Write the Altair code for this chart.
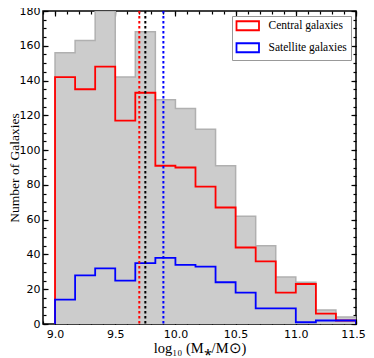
import altair as alt
import pandas as pd

# ---- data ----
bin_edges = [9.0, 9.1667, 9.3333, 9.5, 9.6667, 9.8333, 10.0, 10.1667, 10.3333,
             10.5, 10.6667, 10.8333, 11.0, 11.1667, 11.3333, 11.5]
total_counts = [156, 163, 180, 142, 168, 129, 124, 112, 91, 62, 45, 27, 24, 8, 4]
central_counts = [142, 135, 148, 117, 133, 91, 90, 79, 67, 44, 36, 18, 23, 6, 2]
satellite_counts = [14, 28, 32, 25, 35, 38, 34, 33, 24, 18, 9, 9, 1, 2, 2]
series_names = ["Central galaxies", "Satellite galaxies"]
median_values = [9.70, 9.75, 9.90]
median_colors = ["#ff0000", "#000000", "#0000ff"]
x_major = [9.0, 9.5, 10.0, 10.5, 11.0, 11.5]
x_minor = [round(8.9 + 0.1 * k, 1) for k in range(27)]
y_major = list(range(0, 181, 20))
y_minor = list(range(0, 181, 5))


def step_rows(name, counts):
    xs = [bin_edges[0]] + bin_edges[:-1] + [bin_edges[-1], bin_edges[-1]]
    ys = [0] + counts + [counts[-1], 0]
    return [{"series": name, "order": i, "x": x, "y": y} for i, (x, y) in enumerate(zip(xs, ys))]


area_df = pd.DataFrame({"x": bin_edges, "y": total_counts + [total_counts[-1]]})
total_df = pd.DataFrame(step_rows("All", total_counts))
sub_df = pd.DataFrame(step_rows(series_names[0], central_counts) + step_rows(series_names[1], satellite_counts))
med_df = pd.DataFrame({"x": median_values, "c": median_colors})

xs = alt.Scale(domain=[8.9, 11.5], nice=False, zero=False)
ys = alt.Scale(domain=[0, 180], nice=False, zero=True)

tick_font = "DejaVu Sans"
serif = "Liberation Serif"


def ax(orient, values, size, labels=False, **kw):
    return alt.Axis(orient=orient, values=values, tickSize=size, offset=-size,
                    domain=False, grid=False, labels=labels, ticks=True,
                    tickColor="black", tickWidth=1.2, title=None, **kw)


fill_layer = alt.Chart(area_df).mark_area(interpolate="step-after", color="#cccccc", clip=True).encode(
    x=alt.X("x:Q", scale=xs, axis=ax("bottom", x_major, 5, labels=True, format=".1f",
                                      labelFont=tick_font, labelFontSize=11, labelColor="black",
                                      labelPadding=4, labelFlush=False, labelOverlap=False,
                                      labelOffset={"expr": "datum.value >= 11.4 ? -3 : 0"})).title(None),
    y=alt.Y("y:Q", scale=ys, axis=ax("left", y_major, 5, labels=True, format="d",
                                      labelFont=tick_font, labelFontSize=11, labelColor="black",
                                      labelPadding=3, labelFlush=False, labelOverlap=False)),
)

outline_layer = alt.Chart(total_df).mark_line(interpolate="step-after", color="#b0b0b0",
                                              strokeWidth=1.5, clip=True).encode(
    x=alt.X("x:Q", scale=xs, axis=ax("bottom", x_minor, 3)),
    y=alt.Y("y:Q", scale=ys, axis=ax("left", y_minor, 3)),
    order="order:Q",
)

series_layer = alt.Chart(sub_df).mark_line(interpolate="step-after", strokeWidth=1.8, clip=True).encode(
    x=alt.X("x:Q", scale=xs, axis=ax("top", x_major, 5)),
    y=alt.Y("y:Q", scale=ys, axis=ax("right", y_major, 5)),
    order="order:Q",
    stroke=alt.Stroke("series:N", scale=alt.Scale(domain=series_names, range=["#ff0000", "#0000ff"]),
                      legend=alt.Legend(title=None, orient="none", legendX=189, legendY=5,
                                        fillColor="white", strokeColor="#999999", padding=4,
                                        symbolType="M-2.5,-1L2.5,-1L2.5,1L-2.5,1Z", symbolSize=81,
                                        symbolStrokeWidth=1.8, symbolFillColor="white",
                                        symbolOffset=6, labelOffset=15, rowPadding=5,
                                        labelFont=serif, labelFontSize=11.5, labelColor="black")),
)

rule_layer = alt.Chart(med_df).mark_rule(strokeWidth=2, strokeDash=[2.5, 2.5]).encode(
    x=alt.X("x:Q", scale=xs, axis=ax("top", x_minor, 3)),
    stroke=alt.Stroke("c:N", scale=None),
)

# invisible layer carrying the right minor ticks and the x-axis title
title_layer = alt.Chart(area_df).mark_point(opacity=0).encode(
    x=alt.X("x:Q", scale=xs, axis=alt.Axis(orient="bottom", values=[], offset=0, domain=False, grid=False,
                                           ticks=False, labels=False, title="log₁₀ (M⁎/M⊙)",
                                           titleFont=serif, titleFontSize=14.5, titleFontWeight="normal",
                                           titleColor="black", titlePadding=17)),
    y=alt.Y("y:Q", scale=ys, axis=alt.Axis(orient="right", values=y_minor, tickSize=3, offset=-3,
                                           domain=False, grid=False, labels=False, title=None,
                                           tickColor="black", tickWidth=1.2)),
)

ytitle_layer = alt.Chart(area_df).mark_point(opacity=0).encode(
    y=alt.Y("y:Q", scale=ys, axis=alt.Axis(orient="left", values=[], offset=0, domain=False, grid=False,
                                           ticks=False, labels=False, title="Number of Galaxies",
                                           titleFont=serif, titleFontSize=13.5, titleFontWeight="normal",
                                           titleColor="black", titlePadding=22)),
)

chart = alt.layer(fill_layer, outline_layer, series_layer, rule_layer, title_layer, ytitle_layer).resolve_axis(
    x="independent", y="independent"
).properties(
    width=313, height=313,
    autosize=alt.AutoSizeParams(type="none"),
    padding={"left": 35, "top": 3, "right": 10, "bottom": 40},
).configure_view(stroke="black", strokeWidth=1.5).configure_legend(labelFont=serif)

chart.save("out.html", embed_options={"renderer": "svg", "actions": False})
